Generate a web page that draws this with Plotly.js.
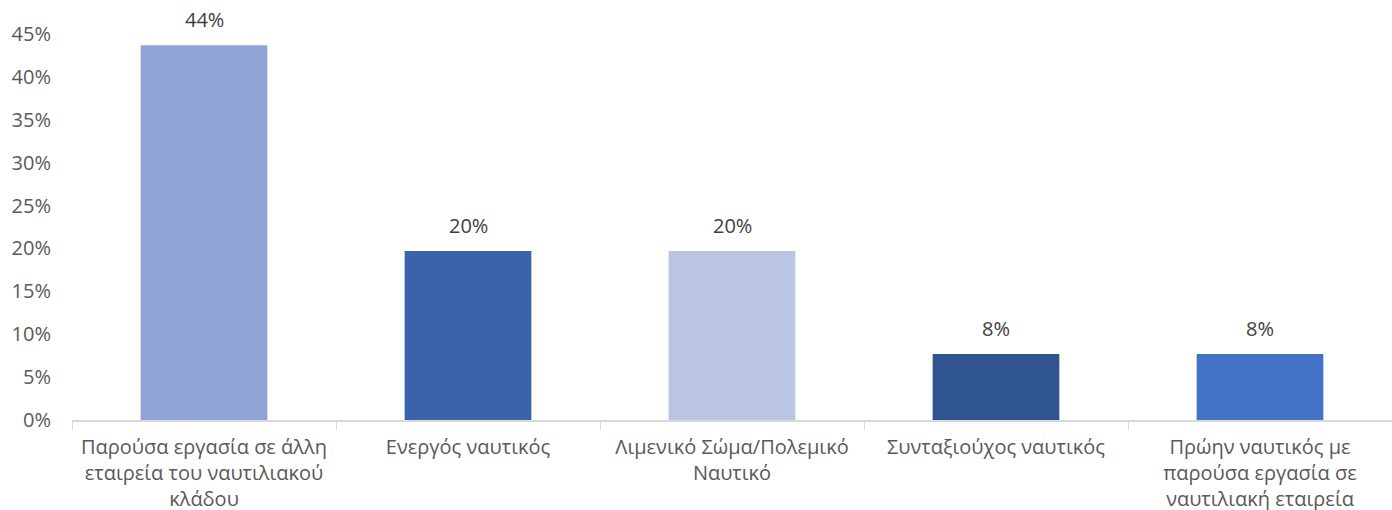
<!DOCTYPE html>
<html>
<head>
<meta charset="utf-8">
<script src="https://cdn.plot.ly/plotly-3.0.1.min.js"></script>
<style>html,body{margin:0;padding:0;background:#fff;}#chart{width:1392px;height:510px;}</style>
</head>
<body>
<div id="chart"></div>
<script>
const categories = [
  "Παρούσα εργασία σε άλλη<br>εταιρεία του ναυτιλιακού<br>κλάδου",
  "Ενεργός ναυτικός",
  "Λιμενικό Σώμα/Πολεμικό<br>Ναυτικό",
  "Συνταξιούχος ναυτικός",
  "Πρώην ναυτικός με<br>παρούσα εργασία σε<br>ναυτιλιακή εταιρεία"
];
const values = [0.437, 0.197, 0.197, 0.077, 0.077];
const valueLabels = ["44%", "20%", "20%", "8%", "8%"];
const barColors = ["#8FA3D4", "#3B63AB", "#BAC4E3", "#30548F", "#4472C4"];
const yTickVals = [0, 0.05, 0.10, 0.15, 0.20, 0.25, 0.30, 0.35, 0.40, 0.45];
const yTickText = ["0%", "5%", "10%", "15%", "20%", "25%", "30%", "35%", "40%", "45%"];

const font = "Open Sans, Noto Sans, sans-serif";
const annotations = categories.map((c, i) => ({
  x: c, y: values[i], xref: "x", yref: "y",
  text: valueLabels[i], showarrow: false,
  yanchor: "bottom", yshift: 10,
  font: {family: font, size: 20, color: "#404040"}
}));

Plotly.newPlot("chart", [{
  type: "bar",
  x: categories,
  y: values,
  marker: {color: barColors},
  hoverinfo: "skip"
}], {
  width: 1392, height: 510,
  margin: {l: 72, r: 0, t: 34, b: 90},
  paper_bgcolor: "#fff", plot_bgcolor: "#fff",
  bargap: 0.52,
  showlegend: false,
  annotations: annotations,
  font: {family: font, size: 20, color: "#595959"},
  xaxis: {
    type: "category",
    showline: true, linecolor: "#D9D9D9", linewidth: 1.5,
    ticks: "outside", tickson: "boundaries", ticklen: 8, tickcolor: "#D9D9D9",
    showgrid: false, ticklabelstandoff: 8,
    tickfont: {family: font, size: 20, color: "#595959"}
  },
  yaxis: {
    range: [0, 0.45],
    tickvals: yTickVals, ticktext: yTickText,
    showgrid: false, zeroline: false, showline: false,
    ticks: "", ticklabelstandoff: 20,
    tickfont: {family: font, size: 20, color: "#595959"}
  }
}, {displayModeBar: false, staticPlot: true});
</script>
</body>
</html>
